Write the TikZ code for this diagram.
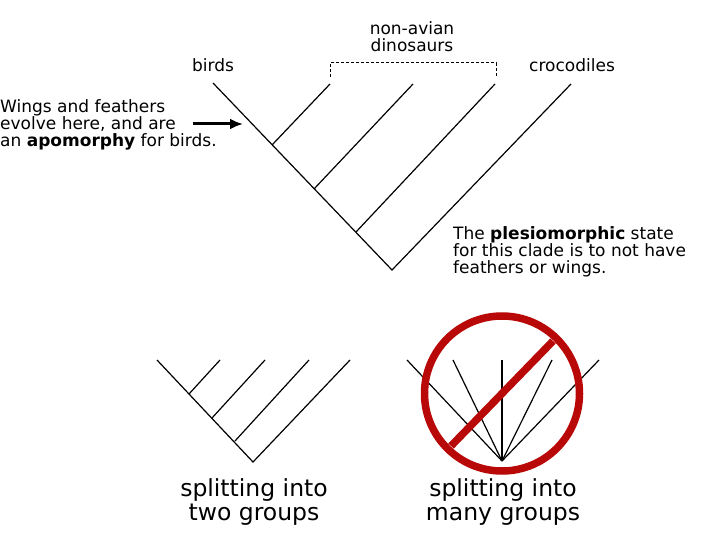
\documentclass[tikz,border=0pt]{standalone}
\usepackage{fontspec}
\setmainfont{DejaVu Sans}
\usepackage{tikz}
\usetikzlibrary{arrows.meta}

\definecolor{norered}{RGB}{185,8,8}

\tikzset{
  branch/.style={line width=1.2pt},
  toplabel/.style={font=\fontsize{17}{17}\selectfont, inner sep=0pt},
  biglabel/.style={font=\fontsize{23.5}{23.5}\selectfont, inner sep=0pt, align=center}
}

\begin{document}
\begin{tikzpicture}[x=1pt,y=-1pt]
\useasboundingbox (0,0) rectangle (720,540);

% top tree
\coordinate (root) at (392,270);
\coordinate (birds) at (213,83);
\coordinate (n1) at (272,145);
\coordinate (n2) at (314,189);
\coordinate (n3) at (356,232);
\coordinate (dino1) at (330,84);
\coordinate (dino2) at (413,84);
\coordinate (dino3) at (495,84);
\coordinate (croc) at (571,84);
\draw[branch] (birds) -- (root) -- (croc);
\draw[branch] (n1) -- (dino1);
\draw[branch] (n2) -- (dino2);
\draw[branch] (n3) -- (dino3);

% bracket over the dinosaurs
\coordinate (brA) at (330,77);
\coordinate (brB) at (330,63);
\coordinate (brC) at (496,63);
\coordinate (brD) at (496,77);
\draw[line width=1pt, dash pattern=on 3pt off 2pt] (brA) -- (brB) -- (brC) -- (brD);

\node[toplabel, anchor=base] (lbirds) at (213,72) {birds};
\node[toplabel, anchor=base] (lcroc) at (572,72) {crocodiles};
% base of a multi-line node = its last line
\node[toplabel, anchor=base, align=center] (ldino) at (412,52) {non-avian\\dinosaurs};

% notes
\node[toplabel, anchor=base west, align=left] (apo) at (0,147)
  {Wings and feathers\\evolve here, and are\\an \textbf{apomorphy} for birds.};
\coordinate (arrowstart) at (193,124);
\coordinate (arrowend) at (243,124);
\draw[line width=3pt, -{Latex[length=13pt,width=11pt]}] (arrowstart) -- (arrowend);

\node[toplabel, anchor=base west, align=left] (plesio) at (453,273)
  {The \textbf{plesiomorphic} state\\for this clade is to not have\\feathers or wings.};

% splitting into two groups
\coordinate (troot) at (253,462);
\coordinate (tleft) at (157,360);
\coordinate (t1) at (189,394);
\coordinate (t2) at (212,418);
\coordinate (t3) at (235,441);
\coordinate (tt1) at (220,360);
\coordinate (tt2) at (265,360);
\coordinate (tt3) at (309,360);
\coordinate (tright) at (350,360);
\draw[branch] (tleft) -- (troot) -- (tright);
\draw[branch] (t1) -- (tt1);
\draw[branch] (t2) -- (tt2);
\draw[branch] (t3) -- (tt3);
\node[biglabel, anchor=base] (ltwo) at (254,520) {splitting into\\two groups};

% splitting into many groups
\coordinate (mroot) at (502,461);
\foreach \x/\name in {407/m1,453/m2,502/m3,552/m4,599/m5} {
  \coordinate (\name) at (\x,360);
  \draw[branch] (mroot) -- (\name);
}
\coordinate (nocenter) at (502,393.5);
\coordinate (slashA) at (451,446);
\coordinate (slashB) at (553,341);
\draw[norered, line width=7.5pt] (nocenter) circle[radius=77.5];
\draw[norered, line width=7.5pt] (slashA) -- (slashB);
\node[biglabel, anchor=base] (lmany) at (503,520) {splitting into\\many groups};
\end{tikzpicture}
\end{document}
